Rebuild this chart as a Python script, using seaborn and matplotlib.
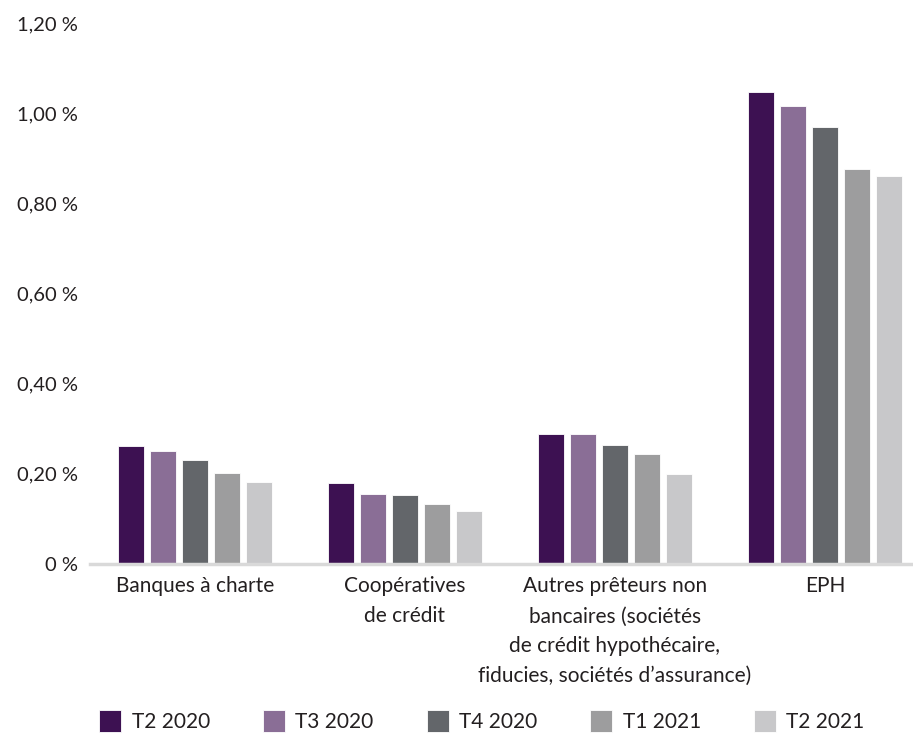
import numpy as np
import pandas as pd
import matplotlib
matplotlib.use('Agg')
import matplotlib.pyplot as plt
import seaborn as sns
from matplotlib.ticker import FuncFormatter

# données (%)
categories = ['Banques à charte', 'Coopératives\nde crédit',
              'Autres prêteurs non\nbancaires (sociétés\nde crédit hypothécaire,\nfiducies, sociétés d’assurance)',
              'EPH']
periods = ['T2 2020', 'T3 2020', 'T4 2020', 'T1 2021', 'T2 2021']
t2_2020 = [0.261, 0.179, 0.288, 1.046]
t3_2020 = [0.251, 0.156, 0.288, 1.016]
t4_2020 = [0.231, 0.152, 0.265, 0.970]
t1_2021 = [0.202, 0.133, 0.245, 0.877]
t2_2021 = [0.182, 0.118, 0.199, 0.860]
colors = ['#3D1152', '#8A6E96', '#63666A', '#9D9D9E', '#C8C8CA']

series = [t2_2020, t3_2020, t4_2020, t1_2021, t2_2021]
df = pd.DataFrame({
    'cat': categories * len(periods),
    'periode': np.repeat(periods, len(categories)),
    'val': np.concatenate(series),
})

sns.set_style('white')
plt.rcParams['font.family'] = ['Lato', 'DejaVu Sans']
txt = '#231F20'

fig = plt.figure(figsize=(9.13, 7.44), dpi=100)
ax = fig.add_axes([90 / 913, (744 - 564) / 744, 1 - 90 / 913, (564 - 23) / 744])

sns.barplot(data=df, x='cat', y='val', hue='periode', order=categories,
            hue_order=periods, palette=colors, width=0.76, gap=0.19,
            edgecolor='white', linewidth=0.6, saturation=1, ax=ax)

ax.set_ylim(0, 1.2)
ax.set_xlim(-0.5, 3.42)
ax.set_yticks(np.arange(0, 1.21, 0.2))
ax.yaxis.set_major_formatter(FuncFormatter(
    lambda v, p: '0 %' if abs(v) < 1e-9 else f'{v:.2f}'.replace('.', ',') + ' %'))
ax.set_xlabel('')
ax.set_ylabel('')
ax.tick_params(axis='y', length=0, pad=9, labelsize=14.5, labelcolor=txt)
ax.tick_params(axis='x', length=0, pad=9, labelsize=15, labelcolor=txt)
for lab in ax.get_xticklabels():
    lab.set_linespacing(1.62)
    lab.set_ha('center')

for s in ['top', 'right', 'left']:
    ax.spines[s].set_visible(False)
ax.spines['bottom'].set_color('#D9D9D9')
ax.spines['bottom'].set_linewidth(2.5)
ax.grid(False)

handles, labels = ax.get_legend_handles_labels()
ax.get_legend().remove()
fig.legend(handles, labels, loc='center', bbox_to_anchor=(482 / 913, 1 - 721 / 744),
           ncol=5, frameon=False, fontsize=15, handlelength=1.05, handleheight=1.3,
           handletextpad=0.5, columnspacing=2.55, labelcolor=txt)

fig.savefig('out.png', dpi=100)
